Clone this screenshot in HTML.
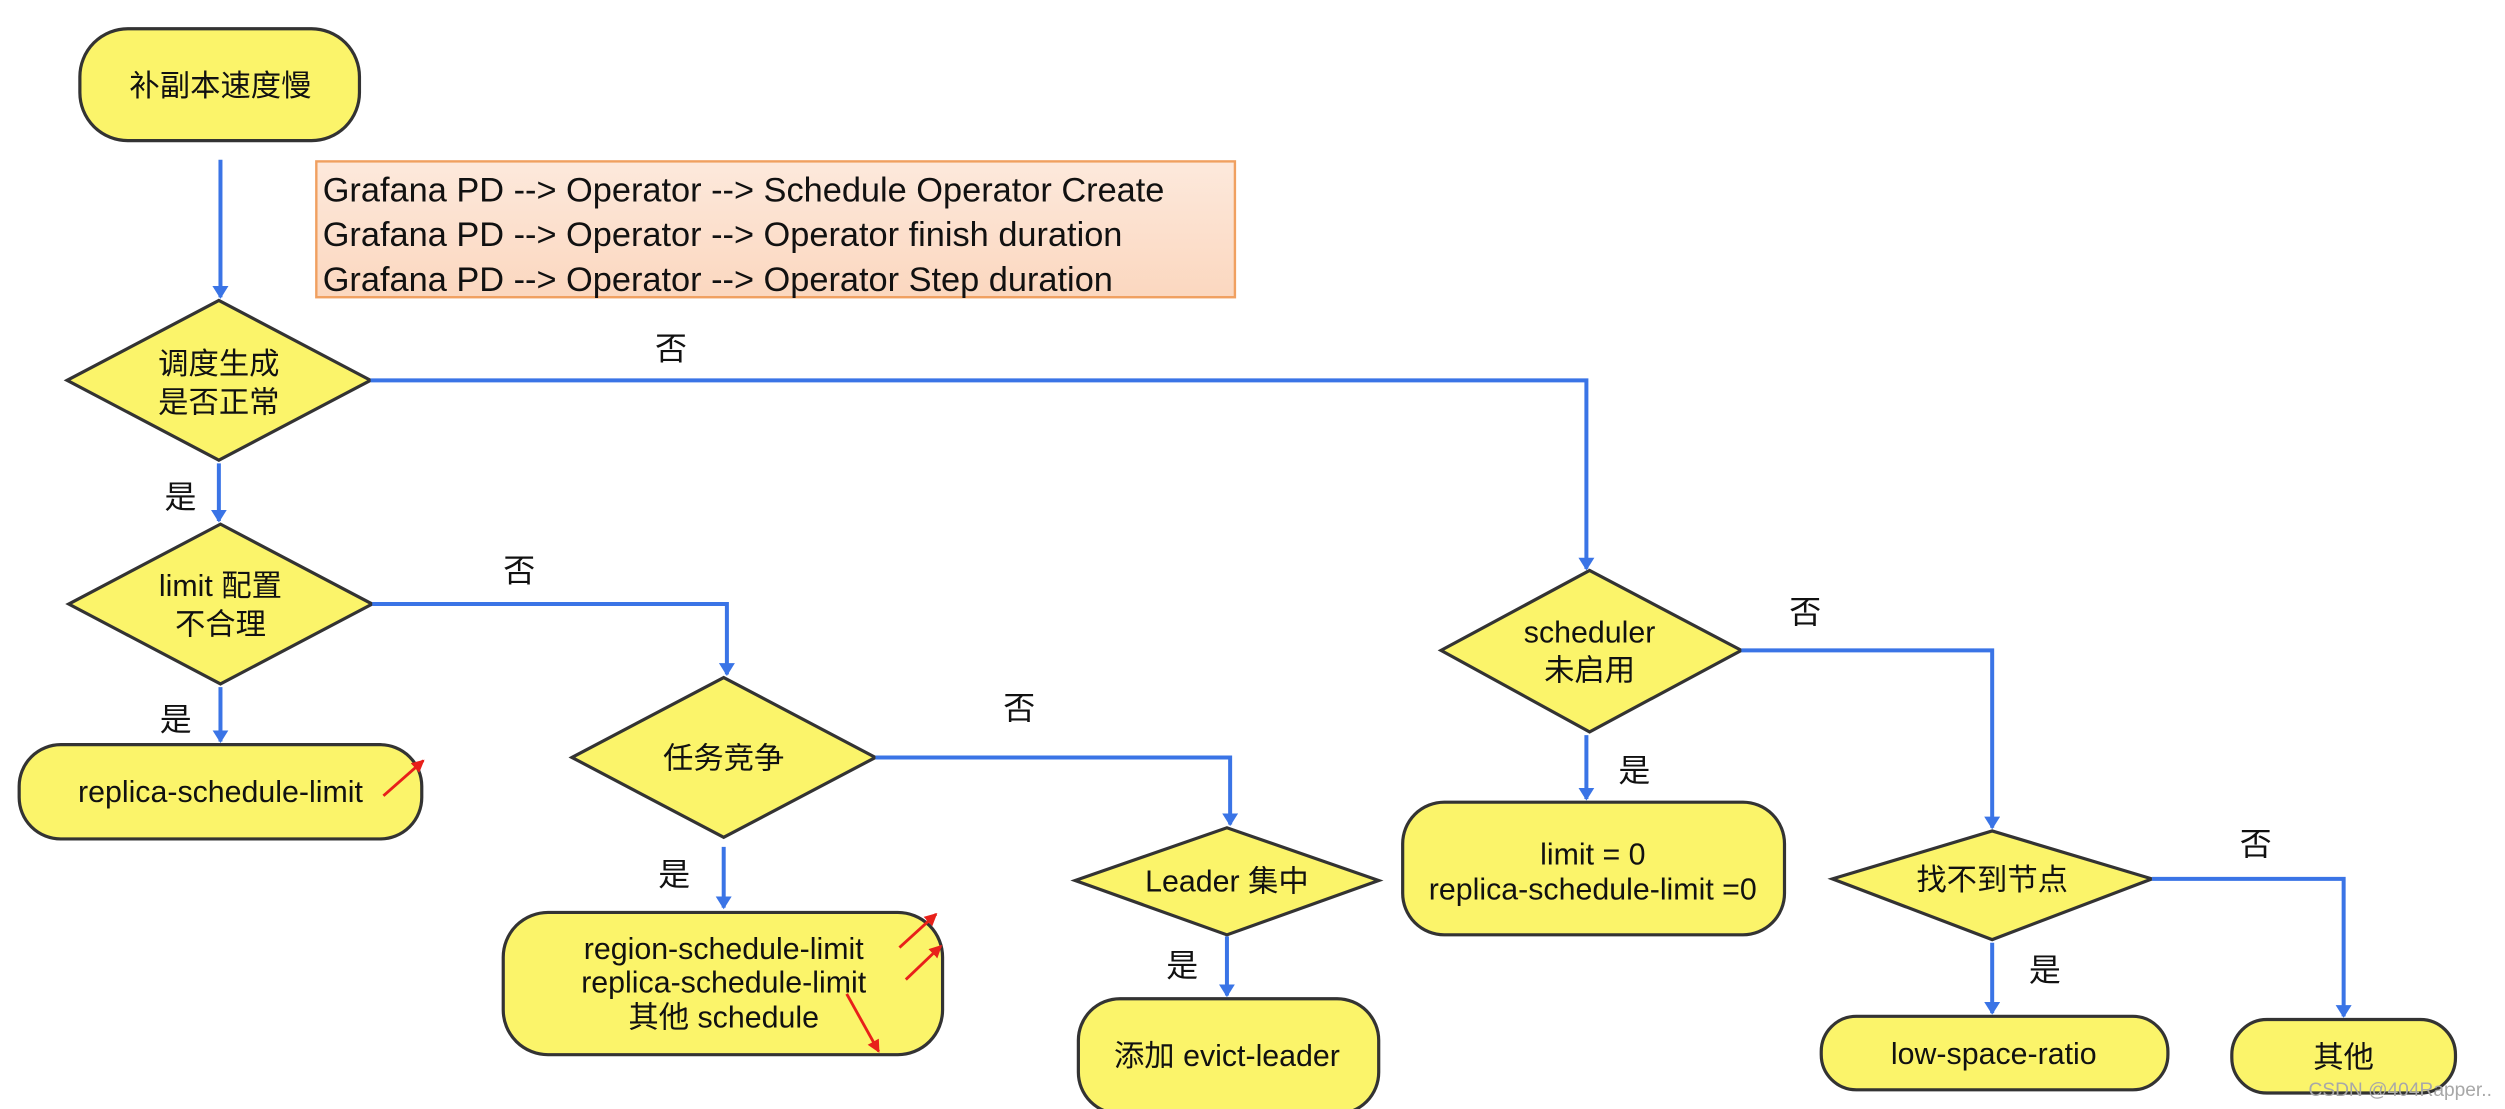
<!DOCTYPE html>
<html><head><meta charset="utf-8"><style>
html,body{margin:0;padding:0;background:#fff;}
svg{display:block;}
text{font-family:"Liberation Sans","Noto Sans CJK SC",sans-serif;fill:#111;}
</style></head><body>
<svg width="2505" height="1109" viewBox="0 0 1568 694" preserveAspectRatio="none" xmlns="http://www.w3.org/2000/svg">
<defs>
<marker id="a" markerWidth="8" markerHeight="10" refX="7" refY="5" orient="auto" markerUnits="userSpaceOnUse"><path d="M0,0 L8,5 L0,10 z" fill="#3a74e6"/></marker>
<marker id="r" markerWidth="8" markerHeight="8" refX="7" refY="4" orient="auto" markerUnits="userSpaceOnUse"><path d="M0,0 L8,4 L0,8 z" fill="#e8201a"/></marker>
<linearGradient id="og" x1="0" y1="0" x2="0" y2="1"><stop offset="0" stop-color="#fde9dc"/><stop offset="1" stop-color="#fbd7bf"/></linearGradient>
</defs>
<g fill="#fbf46a" stroke="#333" stroke-width="2">
<rect x="50" y="18" width="175" height="70" rx="30"/>
<polygon points="42,238 137,188 232,238 137,288"/>
<polygon points="43,378 138,328 233,378 138,428"/>
<rect x="12" y="466" width="252" height="59" rx="26"/>
<polygon points="358,474 453,424 548,474 453,524"/>
<rect x="315" y="571" width="275" height="89" rx="28"/>
<polygon points="673,551 768,518 863,551 768,585"/>
<rect x="675" y="625" width="188" height="72" rx="26"/>
<polygon points="902,407 995,357 1090,407 995,458"/>
<rect x="878" y="502" width="239" height="83" rx="26"/>
<polygon points="1147,550 1247,520 1347,550 1247,588"/>
<rect x="1140" y="636" width="217" height="46" rx="22"/>
<rect x="1397" y="638" width="140" height="46" rx="22"/>
</g>
<rect x="198" y="101" width="575" height="85" fill="url(#og)" stroke="#f0a060" stroke-width="1.5"/>
<g stroke="#3a74e6" stroke-width="2.5" fill="none">
<path d="M138,100 V186" marker-end="url(#a)"/>
<path d="M232,238 H993 V356" marker-end="url(#a)"/>
<path d="M137,290 V326" marker-end="url(#a)"/>
<path d="M233,378 H455 V422" marker-end="url(#a)"/>
<path d="M138,430 V464" marker-end="url(#a)"/>
<path d="M548,474 H770 V516" marker-end="url(#a)"/>
<path d="M453,530 V568" marker-end="url(#a)"/>
<path d="M768,586 V623" marker-end="url(#a)"/>
<path d="M1090,407 H1247 V518" marker-end="url(#a)"/>
<path d="M993,460 V500" marker-end="url(#a)"/>
<path d="M1347,550 H1467 V636" marker-end="url(#a)"/>
<path d="M1247,590 V634" marker-end="url(#a)"/>
</g>
<g stroke="#e8201a" stroke-width="1.8">
<path d="M240,498 L265,476" marker-end="url(#r)"/>
<path d="M563,593 L586,572" marker-end="url(#r)"/>
<path d="M567,613 L589,592" marker-end="url(#r)"/>
<path d="M530,622 L550,658" marker-end="url(#r)"/>
</g>
<g font-size="19" text-anchor="middle">
<text x="138" y="60">补副本速度慢</text>
<text x="137" y="234">调度生成</text><text x="137" y="258">是否正常</text>
<text x="138" y="373">limit 配置</text><text x="138" y="397">不合理</text>
<text x="138" y="502">replica-schedule-limit</text>
<text x="453" y="481">任务竞争</text>
<text x="453" y="600">region-schedule-limit</text>
<text x="453" y="621">replica-schedule-limit</text>
<text x="453" y="643">其他 schedule</text>
<text x="768" y="558">Leader 集中</text>
<text x="768" y="667">添加 evict-leader</text>
<text x="995" y="402">scheduler</text><text x="995" y="426">未启用</text>
<text x="997" y="541">limit = 0</text>
<text x="997" y="563">replica-schedule-limit =0</text>
<text x="1247" y="557">找不到节点</text>
<text x="1248" y="666">low-space-ratio</text>
<text x="1467" y="668">其他</text>
</g>
<g font-size="21.5">
<text x="202" y="126">Grafana PD --&gt; Operator --&gt; Schedule Operator Create</text>
<text x="202" y="154">Grafana PD --&gt; Operator --&gt; Operator finish duration</text>
<text x="202" y="182">Grafana PD --&gt; Operator --&gt; Operator Step duration</text>
</g>
<g font-size="20" text-anchor="middle">
<text x="420" y="225">否</text>
<text x="113" y="318">是</text>
<text x="325" y="364">否</text>
<text x="110" y="457">是</text>
<text x="638" y="450">否</text>
<text x="422" y="554">是</text>
<text x="740" y="611">是</text>
<text x="1130" y="390">否</text>
<text x="1023" y="489">是</text>
<text x="1412" y="535">否</text>
<text x="1280" y="614">是</text>
</g>
<text x="1445" y="686" font-size="12" style="fill:#a8a8a8">CSDN @404Rapper..</text>
</svg>
</body></html>
